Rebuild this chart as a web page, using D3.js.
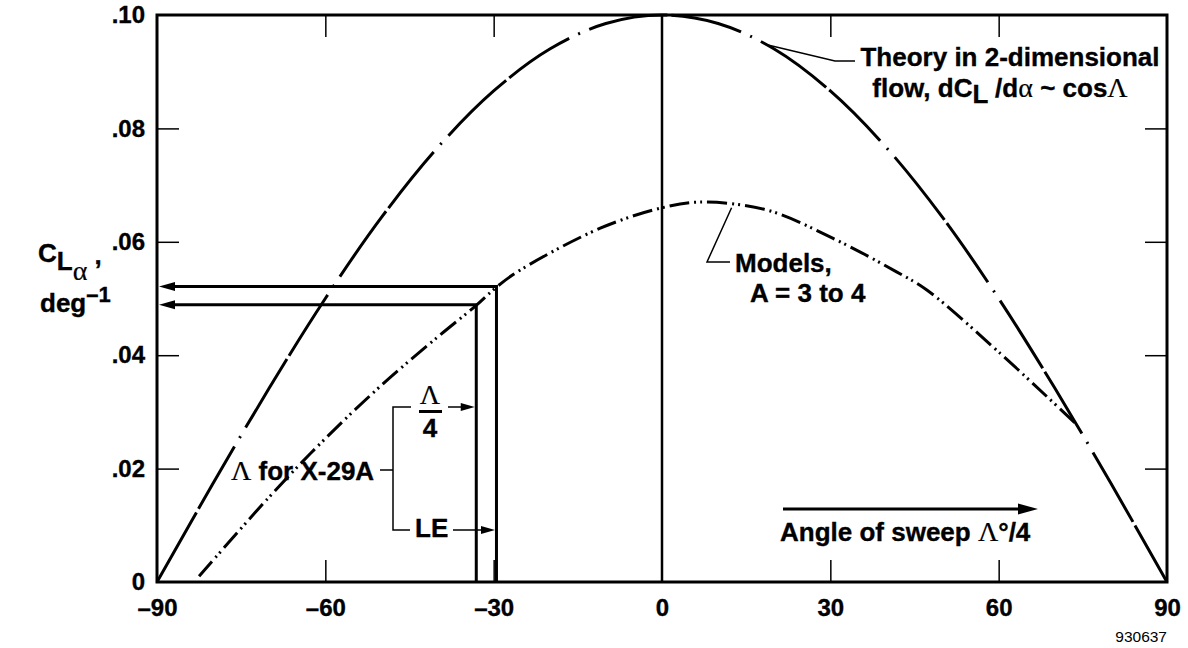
<!DOCTYPE html>
<html>
<head>
<meta charset="utf-8">
<script src="https://cdn.jsdelivr.net/npm/d3@7"></script>
<style>
  body { margin: 0; background: #fff; }
  svg text { font-family: "Liberation Sans", Arial, Helvetica, sans-serif; font-weight: bold; fill: #000; stroke: #000; stroke-width: 0.35px; }
  svg .greek { font-family: "Liberation Serif", "Times New Roman", serif; font-weight: normal; font-size: 28px; stroke-width: 0.2px; }
</style>
</head>
<body>
<svg id="chart" width="1188" height="648"></svg>
<script>
var width = 1188, height = 648
var margin = {top: 15, right: 21, bottom: 66, left: 157}

// theory in 2-D flow, sweep angle (deg) vs C_L alpha
var theorySweep = [-90, -80, -70, -60, -50, -40, -30, -20, -10, 0, 10, 20, 30, 40, 50, 60, 70, 80, 90]
var theoryCla = [0, .0174, .0342, .05, .0643, .0766, .0866, .094, .0985, .1, .0985, .094, .0866, .0766, .0643, .05, .0342, .0174, 0]

// models, A = 3 to 4
var modelSweep = [-82.5, -70, -60, -50, -40, -33.1, -29.5, -25.3, -11, 0, 6.8, 18.7, 30.5, 41.8, 47.2, 60.3, 68.6, 74]
var modelCla = [.001, .015, .0253, .0347, .0432, .0488, .052, .055, .0624, .066, .067, .0656, .0606, .0547, .0515, .0403, .0327, .0277]

// X-29A: quarter chord (lambda/4) and leading edge
var x29Sweep = [-33.1, -29.5]
var x29Cla = [.0489, .0521]

var xTicks = [-90, -60, -30, 0, 30, 60, 90]
var xTickLabels = ['–90', '–60', '–30', '0', '30', '60', '90']
var yTicks = [0, .02, .04, .06, .08, .10]
var yTickLabels = ['0', '.02', '.04', '.06', '.08', '.10']

var svg = d3.select('#chart')

var x = d3.scaleLinear().domain([-90, 90]).range([margin.left, width - margin.right])
var y = d3.scaleLinear().domain([0, .1]).range([height - margin.bottom, margin.top])

function styleAxis(g, edge) {
  g.select('.domain').remove()
  g.selectAll('.tick line')
    .attr('stroke-width', 1.5)
    .filter(d => edge.indexOf(d) >= 0).remove()
  g.selectAll('text').style('font-size', '24px')
}

// ticks point inward on every side
svg.append('g')
  .attr('transform', 'translate(0,' + y(0) + ')')
  .call(d3.axisBottom(x).tickValues(xTicks).tickSize(-22).tickPadding(17)
    .tickFormat((d, i) => xTickLabels[i]))
  .call(styleAxis, [-90, 0, 90])

svg.append('g')
  .attr('transform', 'translate(0,' + y(.1) + ')')
  .call(d3.axisTop(x).tickValues(xTicks).tickSize(-22).tickFormat(''))
  .call(styleAxis, [-90, 0, 90])

svg.append('g')
  .attr('transform', 'translate(' + x(-90) + ',0)')
  .call(d3.axisLeft(y).tickValues(yTicks).tickSize(-22).tickPadding(12)
    .tickFormat((d, i) => yTickLabels[i]))
  .call(styleAxis, [0, .1])

svg.append('g')
  .attr('transform', 'translate(' + x(90) + ',0)')
  .call(d3.axisRight(y).tickValues(yTicks).tickSize(-22).tickFormat(''))
  .call(styleAxis, [0, .1])

// frame
svg.append('rect')
  .attr('x', x(-90)).attr('y', y(.1))
  .attr('width', x(90) - x(-90)).attr('height', y(0) - y(.1))
  .attr('fill', 'none').attr('stroke', '#000').attr('stroke-width', 3)

// zero sweep line
svg.append('line')
  .attr('x1', x(0)).attr('x2', x(0)).attr('y1', y(0)).attr('y2', y(.1))
  .attr('stroke', '#000').attr('stroke-width', 2.5)

var line = d3.line()
  .x(d => x(d[0]))
  .y(d => y(d[1]))
  .curve(d3.curveCatmullRom.alpha(0.5))

svg.append('path')
  .datum(d3.zip(theorySweep, theoryCla))
  .attr('d', line)
  .attr('fill', 'none').attr('stroke', '#000').attr('stroke-width', 3)
  .attr('stroke-dasharray', '80 4 72 10 2 10')

svg.append('path')
  .datum(d3.zip(modelSweep, modelCla))
  .attr('d', line)
  .attr('fill', 'none').attr('stroke', '#000').attr('stroke-width', 3)
  .attr('stroke-dasharray', '20 5 2 4 2 5')

function arrowHead(tx, ty, dir, len, half) {
  // dir: 1 points right, -1 points left
  return 'M' + tx + ',' + ty + 'L' + (tx - dir * len) + ',' + (ty - half) +
    'L' + (tx - dir * len) + ',' + (ty + half) + 'Z'
}

// X-29A sweep lines read across to the axis
x29Sweep.forEach(function(s, i) {
  var px = x(s), py = y(x29Cla[i])
  svg.append('path')
    .attr('d', 'M' + px + ',' + y(0) + 'V' + py + 'H' + (x(-90) + 14))
    .attr('fill', 'none').attr('stroke', '#000').attr('stroke-width', 3)
  svg.append('path')
    .attr('d', arrowHead(x(-90) + 2, py, -1, 16, 4.5))
    .attr('fill', '#000')
})

// bracket for "Λ for X-29A"
var bx = 393, byTop = 407, byBot = 530
svg.append('path')
  .attr('d', 'M380,470H' + bx + 'M' + (bx + 18) + ',' + byTop + 'H' + bx + 'V' + byBot + 'H' + (bx + 17))
  .attr('fill', 'none').attr('stroke', '#000').attr('stroke-width', 1.5)
svg.append('path')
  .attr('d', 'M448,' + byTop + 'H' + (x(x29Sweep[0]) - 10) + 'M453,' + byBot + 'H' + (x(x29Sweep[1]) - 10))
  .attr('fill', 'none').attr('stroke', '#000').attr('stroke-width', 1.5)
svg.append('path').attr('d', arrowHead(x(x29Sweep[0]) - 1.5, byTop, 1, 14, 4)).attr('fill', '#000')
svg.append('path').attr('d', arrowHead(x(x29Sweep[1]) - 1.5, byBot, 1, 14, 4)).attr('fill', '#000')

var t = svg.append('text').attr('x', 231).attr('y', 480).style('font-size', '26px')
t.append('tspan').attr('class', 'greek').text('Λ')
t.append('tspan').text(' for X-29A')

svg.append('text').attr('class', 'greek').attr('x', 430).attr('y', 404)
  .attr('text-anchor', 'middle').text('Λ')
svg.append('rect').attr('x', 419).attr('y', 410).attr('width', 23).attr('height', 3).attr('fill', '#000')
svg.append('text').attr('x', 430).attr('y', 437)
  .attr('text-anchor', 'middle').style('font-size', '26px').text('4')
svg.append('text').attr('x', 415).attr('y', 537).style('font-size', '26px').text('LE')

// theory label
var ta = [18.5, .0948]
svg.append('path')
  .attr('d', 'M' + x(ta[0]) + ',' + y(ta[1]) + 'L835,61H855')
  .attr('fill', 'none').attr('stroke', '#000').attr('stroke-width', 1.5)
svg.append('text').attr('x', 1010).attr('y', 66).attr('text-anchor', 'middle')
  .style('font-size', '26px').text('Theory in 2-dimensional')
var t2 = svg.append('text').attr('x', 1000).attr('y', 97).attr('text-anchor', 'middle').style('font-size', '26px')
t2.append('tspan').text('flow, dC')
t2.append('tspan').attr('dy', 6).text('L')
t2.append('tspan').attr('dy', -6).text(' /d')
t2.append('tspan').attr('class', 'greek').text('α')
t2.append('tspan').text(' ~ cos')
t2.append('tspan').attr('class', 'greek').text('Λ')

// models label
var ma = [12.4, .066]
svg.append('path')
  .attr('d', 'M' + x(ma[0]) + ',' + y(ma[1]) + 'L707,262H730')
  .attr('fill', 'none').attr('stroke', '#000').attr('stroke-width', 1.5)
svg.append('text').attr('x', 735).attr('y', 272).style('font-size', '26px').text('Models,')
svg.append('text').attr('x', 750).attr('y', 302).style('font-size', '26px').text('A = 3 to 4')

// x axis title with arrow
svg.append('line').attr('x1', 783).attr('x2', 1020).attr('y1', 509).attr('y2', 509)
  .attr('stroke', '#000').attr('stroke-width', 3)
svg.append('path').attr('d', arrowHead(1038, 509, 1, 20, 5.5)).attr('fill', '#000')
var t3 = svg.append('text').attr('x', 780).attr('y', 541).style('font-size', '26px')
t3.append('tspan').text('Angle of sweep  ')
t3.append('tspan').attr('class', 'greek').text('Λ')
t3.append('tspan').text('°/4')

// y axis title
var t4 = svg.append('text').attr('x', 38).attr('y', 262).style('font-size', '26px')
t4.append('tspan').text('C')
t4.append('tspan').attr('dy', 8).text('L')
t4.append('tspan').attr('class', 'greek').attr('dy', 10).text('α')
t4.append('tspan').attr('dy', -16).text(' ,')
var t5 = svg.append('text').attr('x', 40).attr('y', 312).style('font-size', '26px')
t5.append('tspan').text('deg')
t5.append('tspan').attr('dy', -10).style('font-size', '22px').text('–1')

svg.append('text').attr('x', x(90)).attr('y', 642).attr('text-anchor', 'end')
  .style('font-size', '15.5px').style('font-weight', 'normal').style('stroke', 'none').text('930637')
</script>
</body>
</html>
